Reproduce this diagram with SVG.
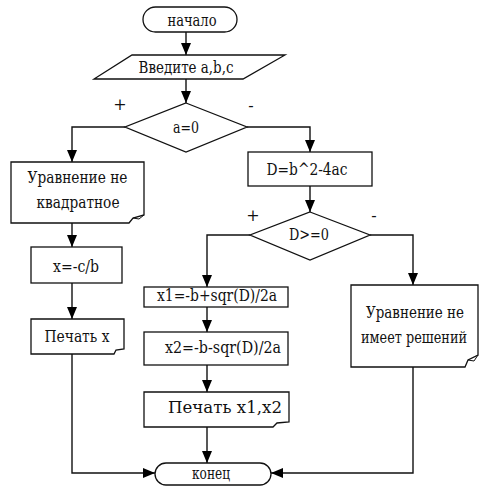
<svg xmlns="http://www.w3.org/2000/svg" width="481" height="486" viewBox="0 0 481 486">
<style>
.s{fill:#fff;stroke:#111;stroke-width:1.3}
.c{fill:none;stroke:#111;stroke-width:1.4}
.t text{font-size:16px;fill:#111;text-anchor:middle}
</style>
<defs>
<marker id="a" viewBox="0 0 12 10" refX="12" refY="5" markerWidth="12" markerHeight="10" markerUnits="userSpaceOnUse" orient="auto">
<path d="M0,0 L12,5 L0,10 z" fill="#000"/>
</marker>
</defs>
<rect width="481" height="486" fill="#fff"/>
<g id="connectors" class="c" marker-end="url(#a)">
<path d="M186,31 V55"/>
<path d="M186,79 V103"/>
<path d="M125,127 H72 V162"/>
<path d="M247,127 H310 V152"/>
<path d="M72,223 V247"/>
<path d="M72,283 V319"/>
<path d="M72,354 V473 H155"/>
<path d="M310,186 V212"/>
<path d="M250,235 H207 V287"/>
<path d="M370,235 H413 V285"/>
<path d="M207,307 V332"/>
<path d="M207,365 V392"/>
<path d="M207,427 V463"/>
<path d="M413,367 V473 H271"/>
</g>
<g class="t" font-family="'DejaVu Serif', serif">
<g id="start">
<rect class="s" x="143" y="7" width="94" height="25" rx="12.5"/>
<text x="192" y="26" textLength="49" lengthAdjust="spacingAndGlyphs">начало</text>
</g>
<g id="input">
<polygon class="s" points="132,55 285,55 243,79 94,79"/>
<text x="186" y="73" textLength="95" lengthAdjust="spacingAndGlyphs">Введите a,b,c</text>
</g>
<g id="cond1">
<polygon class="s" points="186,103 247,127 186,152 125,127"/>
<text x="186" y="133" textLength="26" lengthAdjust="spacingAndGlyphs">a=0</text>
<text x="120" y="110">+</text>
<text x="251" y="111">-</text>
</g>
<g id="msg1">
<path class="s" d="M11,162 H144 V215 L133,218 L129,223 H11 Z"/>
<path class="c" d="M133,218 L139,219 L144,215" style="stroke-width:1"/>
<text x="77.5" y="183" textLength="100" lengthAdjust="spacingAndGlyphs">Уравнение не</text>
<text x="78" y="208" textLength="83" lengthAdjust="spacingAndGlyphs">квадратное</text>
</g>
<g id="calcx">
<rect class="s" x="31" y="247" width="91" height="36"/>
<text x="76" y="272" textLength="46" lengthAdjust="spacingAndGlyphs">x=-c/b</text>
</g>
<g id="printx">
<path class="s" d="M31,319 H124 V349 L116,350 L114,354 H31 Z"/>
<text x="77" y="342" textLength="65" lengthAdjust="spacingAndGlyphs">Печать x</text>
</g>
<g id="calcD">
<rect class="s" x="248" y="152" width="124" height="34"/>
<text x="307" y="175" textLength="81" lengthAdjust="spacingAndGlyphs">D=b^2-4ac</text>
</g>
<g id="cond2">
<polygon class="s" points="310,212 370,235 310,260 250,235"/>
<text x="309" y="240" textLength="40" lengthAdjust="spacingAndGlyphs">D&gt;=0</text>
<text x="253" y="221">+</text>
<text x="374" y="221">-</text>
</g>
<g id="x1">
<rect class="s" x="144" y="287" width="144" height="20"/>
<text x="217" y="301" textLength="120" lengthAdjust="spacingAndGlyphs">x1=-b+sqr(D)/2a</text>
</g>
<g id="x2">
<rect class="s" x="144" y="332" width="144" height="33"/>
<text x="223" y="353" textLength="116" lengthAdjust="spacingAndGlyphs">x2=-b-sqr(D)/2a</text>
</g>
<g id="printx12">
<path class="s" d="M144,392 H289 V422 L277,423 L273,427 H144 Z"/>
<text x="225" y="413" textLength="114" lengthAdjust="spacingAndGlyphs">Печать x1,x2</text>
</g>
<g id="msg2">
<path class="s" d="M351,285 H478 V355 L468,360 L465,367 H351 Z"/>
<path class="c" d="M468,360 L474,361 L478,355" style="stroke-width:1"/>
<text x="415" y="318" textLength="98" lengthAdjust="spacingAndGlyphs">Уравнение не</text>
<text x="414" y="343" font-size="15" textLength="106" lengthAdjust="spacingAndGlyphs">имеет решений</text>
</g>
<g id="end">
<rect class="s" x="155" y="463" width="116" height="22" rx="11"/>
<text x="211" y="479" textLength="38" lengthAdjust="spacingAndGlyphs">конец</text>
</g>
</g>
</svg>
